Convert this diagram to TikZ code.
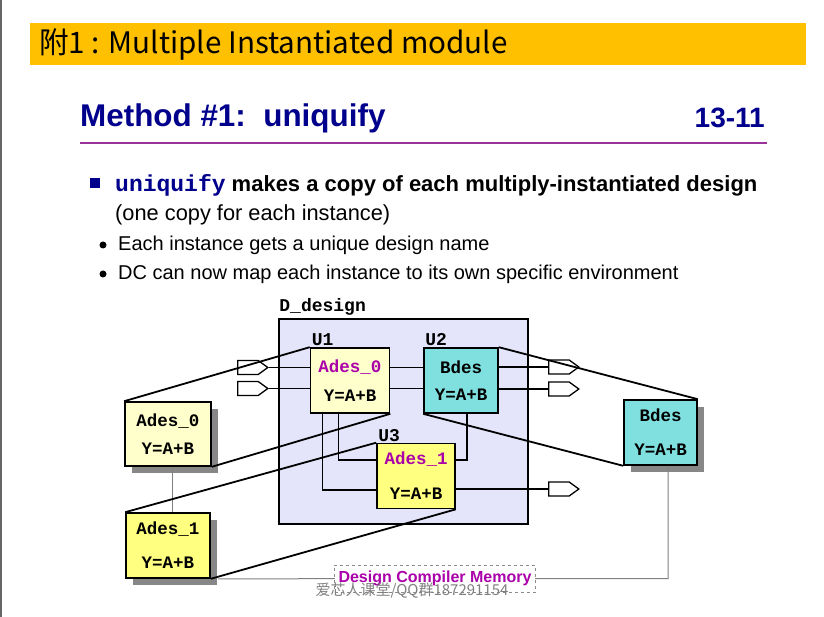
\documentclass[tikz,border=0pt]{standalone}
\usepackage{fontspec}
\setmainfont{Liberation Sans}
\setmonofont{Liberation Mono}
\newfontfamily\cjk{Noto Sans CJK SC}
\usetikzlibrary{shapes.symbols,shadows}
\definecolor{barorange}{RGB}{255,192,0}
\definecolor{navy}{RGB}{0,0,140}
\definecolor{rulepurple}{RGB}{153,51,153}
\definecolor{modmag}{RGB}{170,0,170}
\definecolor{lavender}{RGB}{228,228,250}
\definecolor{paleyel}{RGB}{255,255,204}
\definecolor{yel}{RGB}{255,255,128}
\definecolor{cyanbox}{RGB}{128,224,224}
\tikzset{
  mod/.style={draw,line width=1.6pt,align=center,inner sep=0pt,font=\fontsize{17.5}{20}\ttfamily\bfseries},
  memcopy/.style={mod,drop shadow={shadow xshift=7pt,shadow yshift=-7pt,fill=black!47,opacity=1}},
  port/.style={draw,line width=1.3pt,signal,signal to=east,signal pointer angle=72,minimum width=30pt,minimum height=14pt,inner sep=0pt},
  wire/.style={line width=1.4pt},
  fat/.style={line width=1.8pt},
  memline/.style={black!50,line width=1pt},
  inst/.style={font=\fontsize{18}{20}\ttfamily\bfseries,inner sep=0pt,anchor=south west}
}
\begin{document}
\begin{tikzpicture}[x={1pt},y={-1pt}]
\useasboundingbox (0,0) rectangle (824,617);
\draw[black!60,line width=2pt] (1,0) -- (1,617);
% heading bar and slide title
\fill[barorange] (30,23) rectangle (806,65);
\node[anchor=west,inner sep=0pt,font=\cjk\fontsize{29.6}{29.6}\selectfont] (head) at (39,44) {附1 : Multiple Instantiated module};
\node[anchor=base west,inner sep=0pt,text=navy,font=\fontsize{31.4}{31.4}\selectfont\bfseries] (title) at (80,127) {Method \#1:\ \ uniquify};
\node[anchor=base east,inner sep=0pt,text=navy,font=\fontsize{28}{28}\selectfont\bfseries] (page) at (765,128) {13-11};
\draw[rulepurple,line width=2.5pt] (80,143) -- (767,143);
% bullets
\fill[navy] (90,178) rectangle (100,188);
\node[anchor=base west,inner sep=0pt,font=\fontsize{22}{22}\selectfont\bfseries] (b1) at (115,192) {\textcolor{navy}{\fontsize{23}{23}\ttfamily uniquify} makes a copy of each multiply-instantiated design};
\node[anchor=base west,inner sep=0pt,font=\fontsize{21.8}{21.8}\selectfont] (b1b) at (115,221) {(one copy for each instance)};
\foreach \y/\t in {251/Each instance gets a unique design name,280/DC can now map each instance to its own specific environment}{
  \fill (103,\y-6) circle (3.5);
  \node[anchor=base west,inner sep=0pt,font=\fontsize{20}{20}\selectfont] at (118,\y) {\t};}
% D_design and its instances
\node[mod,fill=lavender,minimum width=249pt,minimum height=205pt] (dd) at (403.5,421.5) {};
\node[inst] (ddl) at ([xshift=1pt,yshift=3pt]dd.north west) {D\_design};
\foreach \n/\x/\y in {in1/248/367.5,in2/248/388.5,out1/559/367,out2/559/389,out3/559/489}
  \node[port] (\n) at (\x,\y) {};
\node[mod,fill=paleyel,minimum width=79pt,minimum height=65pt] (u1) at (350,380.5) {\textcolor{modmag}{Ades\_0}\\[9pt]Y=A+B};
\node[mod,fill=cyanbox,minimum width=74pt,minimum height=65pt] (u2) at (461,380.5) {Bdes\\[7pt]Y=A+B};
\node[mod,fill=yel,minimum width=78pt,minimum height=65pt] (u3) at (416,476) {\textcolor{modmag}{Ades\_1}\\[15pt]Y=A+B};
\foreach \u/\l in {u1/U1,u2/U2,u3/U3}
  \node[inst] (l\u) at ([xshift=2pt,yshift=1pt]\u.north west) {\l};
\foreach \p in {1,2}{
  \draw[wire] (in\p) -- (u1.west |- in\p);
  \draw[line width=0.8pt] (u1.east |- in\p) -- (u2.west |- in\p);
  \draw[wire] (u2.east |- out\p) -- (out\p);}
\draw[wire] ([xshift=13pt]u1.south west) |- ([yshift=-14pt]u3.west);
\draw[wire] ([xshift=29pt]u1.south west) |- ([yshift=16pt]u3.west);
\draw[wire] ([xshift=-32pt]u2.south east) |- ([yshift=16pt]u3.east);
\draw[wire] ([yshift=-13pt]u3.east) -- (out3);
% copies in Design Compiler memory
\node[memcopy,fill=paleyel,minimum width=86pt,minimum height=64pt] (a0m) at (168,434) {Ades\_0\\[8pt]Y=A+B};
\node[memcopy,fill=yel,minimum width=84pt,minimum height=65pt] (a1m) at (168,545.5) {Ades\_1\\[14pt]Y=A+B};
\node[memcopy,fill=cyanbox,minimum width=73pt,minimum height=65pt] (bdm) at (660.5,432.5) {Bdes\\[14pt]Y=A+B};
\coordinate (memc) at (668,578.5);
\draw[memline] ([xshift=4pt]a0m.south) -- ([xshift=4pt]a1m.north);
\draw[memline] ([xshift=7pt]a1m.south east) -- (memc) -- (memc |- bdm.south);
\draw[fat] (u1.north west) -- (a0m.north west) (u1.south east) -- (a0m.south east)
  (u3.north west) -- (a1m.north west) (u3.south east) -- (a1m.south east)
  (u2.north east) -- (bdm.north east) (u2.south west) -- (bdm.south west);
\node[draw=black!45,dashed,fill=white,text=modmag,inner xsep=4pt,minimum height=27pt,font=\fontsize{16}{16}\selectfont\bfseries] (mem) at (435,578.5) {Design Compiler Memory};
\node[text=black!50,font=\cjk\fontsize{15}{15}\selectfont,inner sep=0pt] (wm) at (412,591) {爱芯人课堂/QQ群187291154};
\end{tikzpicture}
\end{document}
